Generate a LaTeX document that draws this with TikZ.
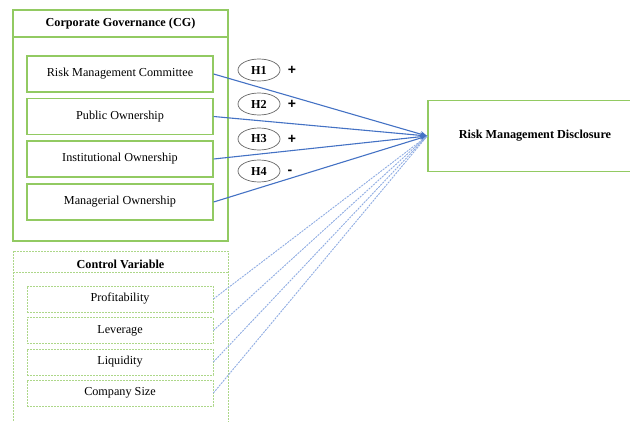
\documentclass[tikz,border=0pt]{standalone}
\usepackage{fontspec}
\setmainfont{Liberation Serif}
\newfontfamily\signfont{Liberation Sans}
\usetikzlibrary{positioning, arrows.meta, shapes.geometric}
\definecolor{cggreen}{RGB}{146,202,98}
\definecolor{linkblue}{RGB}{68,114,196}
\definecolor{ctrlblue}{RGB}{143,172,226}
\newcommand{\labelsize}{\fontsize{12.2}{14}\selectfont}
\tikzset{
    varbox/.style={rectangle, draw=cggreen, line width=1.3pt, minimum width=186pt, minimum height=36pt, inner sep=0pt, font=\labelsize},
    ctrlbox/.style={rectangle, draw=cggreen!75, dash pattern=on 2pt off 1pt, line width=0.8pt, minimum width=186pt, minimum height=26pt, inner sep=0pt, font=\labelsize},
    hypo/.style={ellipse, draw=black!60, line width=0.7pt, minimum width=42pt, minimum height=22pt, inner sep=0pt, font=\labelsize\bfseries},
    sign/.style={font=\signfont\fontsize{14}{16}\selectfont\bfseries},
    link/.style={-{Stealth[length=7pt, width=6pt]}, linkblue, line width=1.1pt},
    ctrllink/.style={ctrlblue, line width=0.9pt, dash pattern=on 2pt off 1pt}
}

\begin{document}
\begin{tikzpicture}[x=1pt, y=-1pt]
    \useasboundingbox (0,0) rectangle (630,421);

    % === CORPORATE GOVERNANCE ===
    \draw[cggreen, line width=1.6pt] (13,10) rectangle (228,241);
    \draw[cggreen, line width=1.6pt] (13,37) -- (228,37);
    \node[font=\labelsize\bfseries] (cgtitle) at (120.5,24) {Corporate Governance (CG)};

    \node[varbox] (rmc) at (120,74) {Risk Management Committee};
    \node[varbox] (pub) at (120,116.5) {Public Ownership};
    \node[varbox] (ins) at (120,159) {Institutional Ownership};
    \node[varbox] (man) at (120,202) {Managerial Ownership};

    % === CONTROL VARIABLE ===
    \draw[cggreen!75, line width=0.8pt, dash pattern=on 2pt off 1pt] (13,430) -- (13,251) -- (228,251) -- (228,430);
    \draw[cggreen!75, line width=0.8pt, dash pattern=on 2pt off 1pt] (13,272) -- (228,272);
    \node[font=\labelsize\bfseries] (cvtitle) at (120.5,264) {Control Variable};

    \node[ctrlbox] (prof) at (120,299) {Profitability};
    \node[ctrlbox] (lev) at (120,330.5) {Leverage};
    \node[ctrlbox] (liq) at (120,362) {Liquidity};
    \node[ctrlbox] (size) at (120,393) {Company Size};

    % === DEPENDENT VARIABLE ===
    \node[rectangle, draw=cggreen, line width=1.6pt, minimum width=214pt, minimum height=71pt, font=\labelsize\bfseries] (rmd) at (535,136) {Risk Management Disclosure};

    % Hypotheses
    \node[hypo] (h1) at (259,70) {H1};
    \node[hypo] (h2) at (259,104) {H2};
    \node[hypo] (h3) at (259,139) {H3};
    \node[hypo] (h4) at (259,171) {H4};
    \node[sign] (s1) at (292,70) {+};
    \node[sign] (s2) at (292,104) {+};
    \node[sign] (s3) at (292,139) {+};
    \node[sign] (s4) at (290,172) {-};

    % Links
    \draw[link] (rmc.east) -- (rmd.west);
    \draw[link] (pub.east) -- (rmd.west);
    \draw[link] (ins.east) -- (rmd.west);
    \draw[link] (man.east) -- (rmd.west);

    % Control links
    \draw[ctrllink] (prof.east) -- (rmd.west);
    \draw[ctrllink] (lev.east) -- (rmd.west);
    \draw[ctrllink] (liq.east) -- (rmd.west);
    \draw[ctrllink] (size.east) -- (rmd.west);

\end{tikzpicture}
\end{document}
